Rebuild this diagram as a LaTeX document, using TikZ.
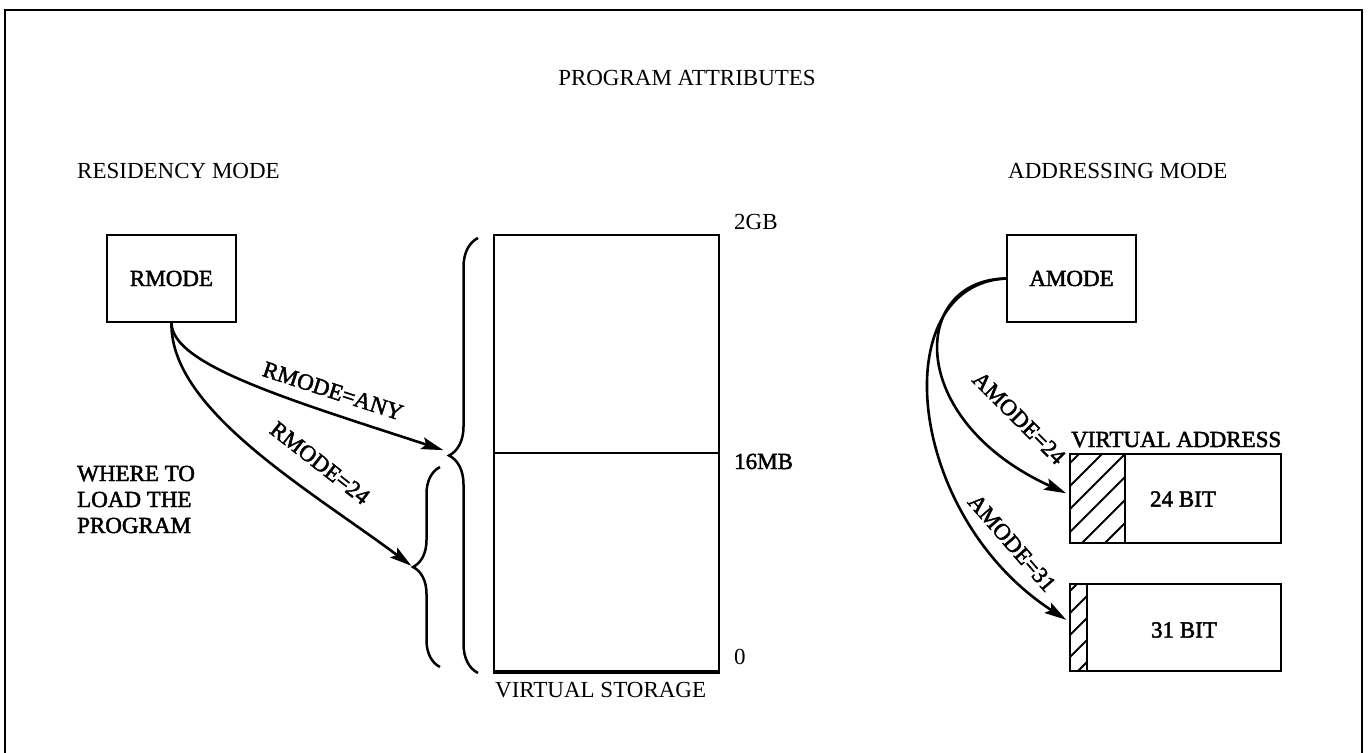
\documentclass[tikz,border=0pt]{standalone}
\usepackage{fontspec}
\setmainfont{Liberation Serif}
\newfontfamily\scanfont{Liberation Serif}[FakeBold=2]
\usetikzlibrary{arrows.meta,decorations.pathreplacing}
\begin{document}
\begin{tikzpicture}[x=1pt,y=-1pt,
  plain/.style={font=\fontsize{23}{26}\selectfont, inner sep=0pt},
  scan/.style={font=\scanfont\fontsize{23}{26}\selectfont, inner sep=0pt},
  box/.style={draw, line width=2.4pt, inner sep=0pt},
  flow/.style={line width=2.6pt, -{Stealth[length=22pt,width=12pt,inset=4pt]}},
  curly/.style={line width=2.5pt, decorate, decoration={brace, amplitude=#1}},
  hatch/.style={line width=2pt}]
\useasboundingbox (0,0) rectangle (1370,752);

% outer frame (open at the bottom)
\draw[line width=2.8pt] (5,760) -- (5,10) -- (1362,10) -- (1362,760);

% headings
\node[plain, anchor=base] (title) at (687,85) {PROGRAM ATTRIBUTES};
\node[plain, anchor=base west] (resmode) at (77,178) {RESIDENCY MODE};
\node[plain, anchor=base west] (addrmode) at (1008,178) {ADDRESSING MODE};

% residency mode side
\node[box, scan, minimum width=129pt, minimum height=87pt] (rmode) at (171.5,278.5) {RMODE};
\node[scan, anchor=base west, align=left] (where) at (77,533)
  {WHERE TO\\LOAD THE\\PROGRAM};

% virtual storage
\node[draw, line width=2.4pt, minimum width=225pt, minimum height=436pt, inner sep=0pt] (vs) at (606.5,453) {};
\draw[line width=1.6pt] (vs.west) -- (vs.east);
\draw[line width=3.8pt] (vs.south west) -- (vs.south east);
\node[plain, anchor=base west] (gb2) at (734,229) {2GB};
\node[scan, anchor=base west] (mb16) at (734,469) {16MB};
\node[plain, anchor=base west] (zero) at (734,664) {0};
\node[plain, anchor=base west] (vslbl) at (495,697) {VIRTUAL STORAGE};

% braces marking the storage ranges
\draw[curly=29pt] (478,673) -- (478,238);
\draw[curly=27pt] (440,667) -- (440,467);
\coordinate (anytip) at (449,452);
\coordinate (lowtip) at (413,567);

% residency arrows
\draw[flow, shorten >=6pt] (rmode.south) .. controls (172,365) and (290,400) .. (anytip);
\draw[flow, shorten >=2pt] (rmode.south) .. controls (170,410) and (310,490) .. (lowtip);
\node[scan, rotate=-18] (lany) at (333,391) {RMODE=ANY};
\node[scan, rotate=-38] (l24) at (320,463) {RMODE=24};

% addressing mode side
\node[box, scan, minimum width=129pt, minimum height=87pt] (amode) at (1071.5,278.5) {AMODE};
\node[scan, anchor=base west] (valbl) at (1071,447) {VIRTUAL ADDRESS};

\node[box, minimum width=211pt, minimum height=89pt] (va24) at (1175.5,498.5) {};
\node[box, minimum width=211pt, minimum height=87pt] (va31) at (1175.5,627.5) {};
\draw[line width=2.4pt] (1125,454) -- (1125,543);
\draw[line width=2.4pt] (1087,584) -- (1087,671);
\node[scan] (b24) at (1183,499) {24 BIT};
\node[scan] (b31) at (1184,630) {31 BIT};

% hatched high-order bits
\begin{scope}
  \clip (1070,454) rectangle (1125,543);
  \foreach \k in {-6,...,2} \draw[hatch] (1082+23*\k,543) -- ++(130,-130);
\end{scope}
\begin{scope}
  \clip (1070,584) rectangle (1087,671);
  \foreach \k in {-6,...,2} \draw[hatch] (1078+22*\k,671) -- ++(130,-130);
\end{scope}

% addressing arrows
\draw[flow, shorten >=3pt] (amode.west) .. controls (910,280) and (905,420) .. ([yshift=4pt]va24.west);
\draw[flow, shorten >=3pt] (amode.west) .. controls (885,285) and (905,515) .. ([yshift=6pt]va31.west);
\node[scan, rotate=-45] (a24) at (1019,418) {AMODE=24};
\node[scan, rotate=-49] (a31) at (1012,543) {AMODE=31};
\end{tikzpicture}
\end{document}
